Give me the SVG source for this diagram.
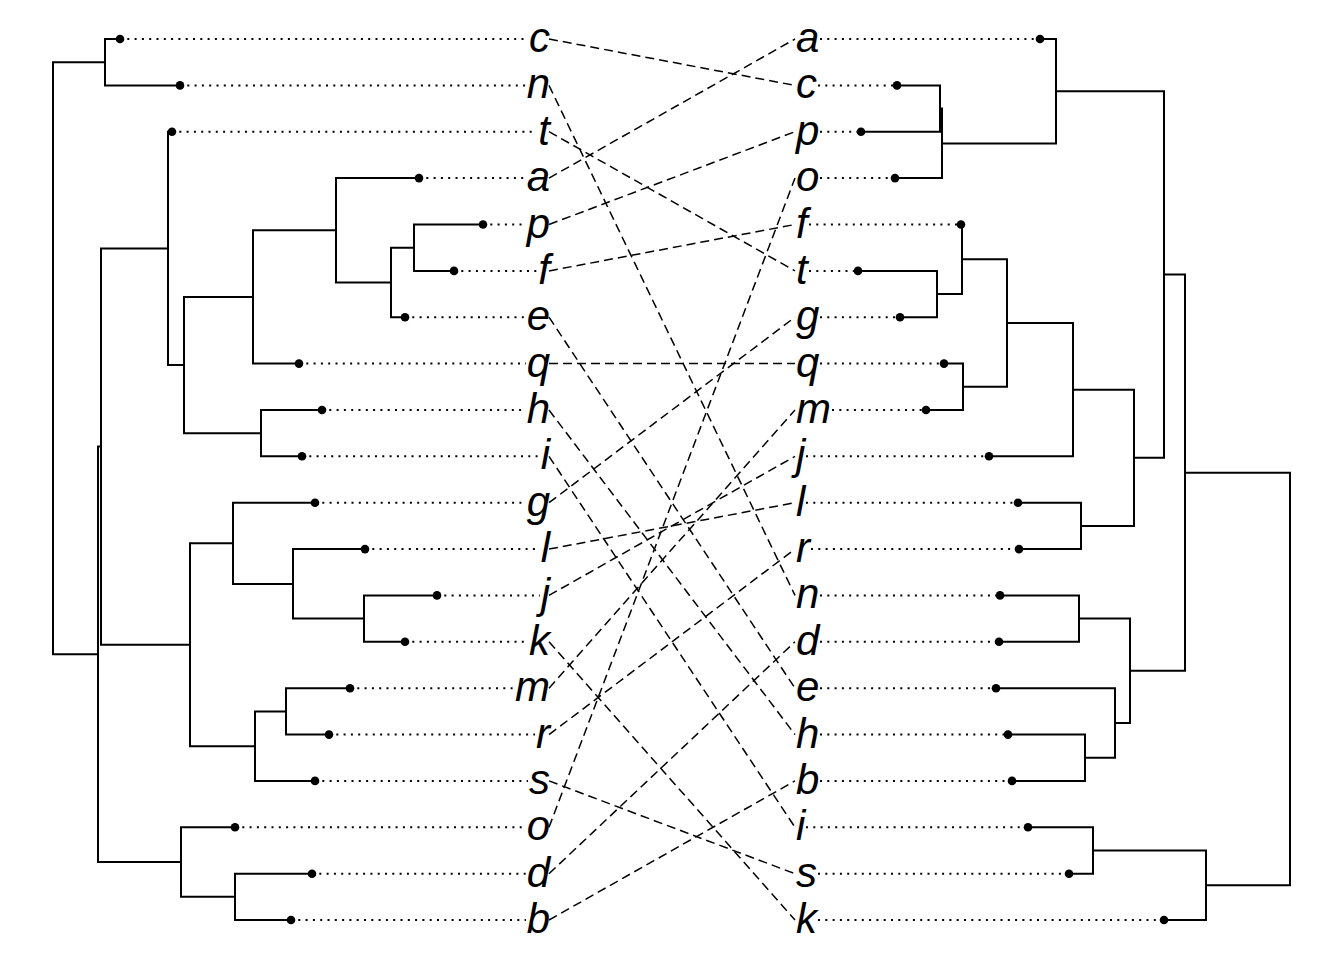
<svg xmlns="http://www.w3.org/2000/svg" width="1344" height="960" viewBox="0 0 1344 960">
  <style>
    .br { fill: none; stroke: #000; stroke-width: 2; stroke-linecap: square; }
    .dot { fill: #000; }
    .lead { stroke: #000; stroke-width: 2; stroke-dasharray: 2 5.3; fill: none; }
    .cx { stroke: #000; stroke-width: 1.5; stroke-dasharray: 9 5; fill: none; }
    .lab { font-family: "Liberation Sans", Arial, sans-serif; font-style: italic; font-size: 42px; fill: #000; }
    .l { text-anchor: end; }
    .r { text-anchor: start; }
  </style>
  <rect width="1344" height="960" fill="#fff"/>

  <!-- left dendrogram branches -->
  <g id="left-tree" class="br">
    <path d="M120 39 H105 V85.4 H180"/>
    <path d="M483 224.5 H414 V270.9 H454"/>
    <path d="M414 247.7 H391 V317.2 H405"/>
    <path d="M419 178.1 H336 V282.4 H391"/>
    <path d="M336 230.3 H253 V363.6 H299"/>
    <path d="M322 410 H261 V456.3 H302"/>
    <path d="M253 296.9 H184 V433.2 H261"/>
    <path d="M172 131.7 H168 V365 H184"/>
    <path d="M437 595.4 H364 V641.8 H405"/>
    <path d="M365 549.1 H293 V618.6 H364"/>
    <path d="M315 502.7 H233 V583.9 H293"/>
    <path d="M350 688.2 H286 V734.6 H329"/>
    <path d="M286 711.4 H255 V780.9 H315"/>
    <path d="M233 543.3 H190 V746.2 H255"/>
    <path d="M168 248.4 H101 V644.7 H190"/>
    <path d="M312 873.7 H235 V920 H291"/>
    <path d="M235 827.3 H181 V896.8 H235"/>
    <path d="M101 446.6 H98 V862.1 H181"/>
    <path d="M105 62.2 H53 V654.3 H98"/>
  </g>

  <!-- right dendrogram branches -->
  <g id="right-tree" class="br">
    <path d="M897 85.4 H940 V131.7 H861"/>
    <path d="M940 108.6 H942 V178.1 H895"/>
    <path d="M1040 39 H1056 V143.4 H942"/>
    <path d="M858 270.9 H937 V317.2 H900"/>
    <path d="M961 224.5 H962 V294.1 H937"/>
    <path d="M944 363.6 H963 V410 H926"/>
    <path d="M962 259.3 H1007 V386.8 H963"/>
    <path d="M1007 323.1 H1073 V456.3 H989"/>
    <path d="M1018 502.7 H1081 V549.1 H1019"/>
    <path d="M1073 389.7 H1134 V525.9 H1081"/>
    <path d="M1056 91.2 H1164 V457.8 H1134"/>
    <path d="M1000 595.4 H1079 V641.8 H999"/>
    <path d="M1008 734.6 H1085 V780.9 H1012"/>
    <path d="M996 688.2 H1115 V757.8 H1085"/>
    <path d="M1079 618.6 H1130 V723 H1115"/>
    <path d="M1164 274.5 H1185 V670.8 H1130"/>
    <path d="M1028 827.3 H1093 V873.7 H1069"/>
    <path d="M1093 850.5 H1206 V920 H1164"/>
    <path d="M1185 472.7 H1290 V885.3 H1206"/>
  </g>

  <!-- left leaves: dot, leader, label -->
  <g id="left-leaves">
    <g id="L-c"><path class="lead" d="M120 39 H528"/><circle class="dot" cx="120" cy="39" r="4.3"/><text class="lab l" x="550" y="52">c</text></g>
    <g id="L-n"><path class="lead" d="M180 85.4 H526"/><circle class="dot" cx="180" cy="85.4" r="4.3"/><text class="lab l" x="550" y="98.4">n</text></g>
    <g id="L-t"><path class="lead" d="M172 131.7 H537"/><circle class="dot" cx="172" cy="131.7" r="4.3"/><text class="lab l" x="550" y="144.7">t</text></g>
    <g id="L-a"><path class="lead" d="M419 178.1 H526"/><circle class="dot" cx="419" cy="178.1" r="4.3"/><text class="lab l" x="550" y="191.1">a</text></g>
    <g id="L-p"><path class="lead" d="M483 224.5 H526"/><circle class="dot" cx="483" cy="224.5" r="4.3"/><text class="lab l" x="550" y="237.5">p</text></g>
    <g id="L-f"><path class="lead" d="M454 270.9 H537"/><circle class="dot" cx="454" cy="270.9" r="4.3"/><text class="lab l" x="550" y="283.9">f</text></g>
    <g id="L-e"><path class="lead" d="M405 317.2 H526"/><circle class="dot" cx="405" cy="317.2" r="4.3"/><text class="lab l" x="550" y="330.2">e</text></g>
    <g id="L-q"><path class="lead" d="M299 363.6 H526"/><circle class="dot" cx="299" cy="363.6" r="4.3"/><text class="lab l" x="550" y="376.6">q</text></g>
    <g id="L-h"><path class="lead" d="M322 410 H526"/><circle class="dot" cx="322" cy="410" r="4.3"/><text class="lab l" x="550" y="423">h</text></g>
    <g id="L-i"><path class="lead" d="M302 456.3 H540"/><circle class="dot" cx="302" cy="456.3" r="4.3"/><text class="lab l" x="550" y="469.3">i</text></g>
    <g id="L-g"><path class="lead" d="M315 502.7 H526"/><circle class="dot" cx="315" cy="502.7" r="4.3"/><text class="lab l" x="550" y="515.7">g</text></g>
    <g id="L-l"><path class="lead" d="M365 549.1 H540"/><circle class="dot" cx="365" cy="549.1" r="4.3"/><text class="lab l" x="550" y="562.1">l</text></g>
    <g id="L-j"><path class="lead" d="M437 595.4 H540"/><circle class="dot" cx="437" cy="595.4" r="4.3"/><text class="lab l" x="550" y="608.4">j</text></g>
    <g id="L-k"><path class="lead" d="M405 641.8 H528"/><circle class="dot" cx="405" cy="641.8" r="4.3"/><text class="lab l" x="550" y="654.8">k</text></g>
    <g id="L-m"><path class="lead" d="M350 688.2 H514"/><circle class="dot" cx="350" cy="688.2" r="4.3"/><text class="lab l" x="550" y="701.2">m</text></g>
    <g id="L-r"><path class="lead" d="M329 734.6 H535"/><circle class="dot" cx="329" cy="734.6" r="4.3"/><text class="lab l" x="550" y="747.6">r</text></g>
    <g id="L-s"><path class="lead" d="M315 780.9 H528"/><circle class="dot" cx="315" cy="780.9" r="4.3"/><text class="lab l" x="550" y="793.9">s</text></g>
    <g id="L-o"><path class="lead" d="M235 827.3 H526"/><circle class="dot" cx="235" cy="827.3" r="4.3"/><text class="lab l" x="550" y="840.3">o</text></g>
    <g id="L-d"><path class="lead" d="M312 873.7 H526"/><circle class="dot" cx="312" cy="873.7" r="4.3"/><text class="lab l" x="550" y="886.7">d</text></g>
    <g id="L-b"><path class="lead" d="M291 920 H526"/><circle class="dot" cx="291" cy="920" r="4.3"/><text class="lab l" x="550" y="933">b</text></g>
  </g>

  <!-- right leaves: label, leader, dot -->
  <g id="right-leaves">
    <g id="R-a"><path class="lead" d="M820 39 H1040"/><circle class="dot" cx="1040" cy="39" r="4.3"/><text class="lab r" x="796" y="52">a</text></g>
    <g id="R-c"><path class="lead" d="M818 85.4 H897"/><circle class="dot" cx="897" cy="85.4" r="4.3"/><text class="lab r" x="796" y="98.4">c</text></g>
    <g id="R-p"><path class="lead" d="M820 131.7 H861"/><circle class="dot" cx="861" cy="131.7" r="4.3"/><text class="lab r" x="796" y="144.7">p</text></g>
    <g id="R-o"><path class="lead" d="M820 178.1 H895"/><circle class="dot" cx="895" cy="178.1" r="4.3"/><text class="lab r" x="796" y="191.1">o</text></g>
    <g id="R-f"><path class="lead" d="M809 224.5 H961"/><circle class="dot" cx="961" cy="224.5" r="4.3"/><text class="lab r" x="796" y="237.5">f</text></g>
    <g id="R-t"><path class="lead" d="M809 270.9 H858"/><circle class="dot" cx="858" cy="270.9" r="4.3"/><text class="lab r" x="796" y="283.9">t</text></g>
    <g id="R-g"><path class="lead" d="M820 317.2 H900"/><circle class="dot" cx="900" cy="317.2" r="4.3"/><text class="lab r" x="796" y="330.2">g</text></g>
    <g id="R-q"><path class="lead" d="M820 363.6 H944"/><circle class="dot" cx="944" cy="363.6" r="4.3"/><text class="lab r" x="796" y="376.6">q</text></g>
    <g id="R-m"><path class="lead" d="M832 410 H926"/><circle class="dot" cx="926" cy="410" r="4.3"/><text class="lab r" x="796" y="423">m</text></g>
    <g id="R-j"><path class="lead" d="M806 456.3 H989"/><circle class="dot" cx="989" cy="456.3" r="4.3"/><text class="lab r" x="796" y="469.3">j</text></g>
    <g id="R-l"><path class="lead" d="M806 502.7 H1018"/><circle class="dot" cx="1018" cy="502.7" r="4.3"/><text class="lab r" x="796" y="515.7">l</text></g>
    <g id="R-r"><path class="lead" d="M811 549.1 H1019"/><circle class="dot" cx="1019" cy="549.1" r="4.3"/><text class="lab r" x="796" y="562.1">r</text></g>
    <g id="R-n"><path class="lead" d="M820 595.4 H1000"/><circle class="dot" cx="1000" cy="595.4" r="4.3"/><text class="lab r" x="796" y="608.4">n</text></g>
    <g id="R-d"><path class="lead" d="M820 641.8 H999"/><circle class="dot" cx="999" cy="641.8" r="4.3"/><text class="lab r" x="796" y="654.8">d</text></g>
    <g id="R-e"><path class="lead" d="M820 688.2 H996"/><circle class="dot" cx="996" cy="688.2" r="4.3"/><text class="lab r" x="796" y="701.2">e</text></g>
    <g id="R-h"><path class="lead" d="M820 734.6 H1008"/><circle class="dot" cx="1008" cy="734.6" r="4.3"/><text class="lab r" x="796" y="747.6">h</text></g>
    <g id="R-b"><path class="lead" d="M820 780.9 H1012"/><circle class="dot" cx="1012" cy="780.9" r="4.3"/><text class="lab r" x="796" y="793.9">b</text></g>
    <g id="R-i"><path class="lead" d="M806 827.3 H1028"/><circle class="dot" cx="1028" cy="827.3" r="4.3"/><text class="lab r" x="796" y="840.3">i</text></g>
    <g id="R-s"><path class="lead" d="M818 873.7 H1069"/><circle class="dot" cx="1069" cy="873.7" r="4.3"/><text class="lab r" x="796" y="886.7">s</text></g>
    <g id="R-k"><path class="lead" d="M818 920 H1164"/><circle class="dot" cx="1164" cy="920" r="4.3"/><text class="lab r" x="796" y="933">k</text></g>
  </g>

  <!-- dashed links between matching leaves -->
  <g id="connectors" class="cx">
    <path d="M549 39 L795 85.4"/>
    <path d="M549 85.4 L795 595.4"/>
    <path d="M549 131.7 L795 270.9"/>
    <path d="M549 178.1 L795 39"/>
    <path d="M549 224.5 L795 131.7"/>
    <path d="M549 270.9 L795 224.5"/>
    <path d="M549 317.2 L795 688.2"/>
    <path d="M549 363.6 L795 363.6"/>
    <path d="M549 410 L795 734.6"/>
    <path d="M549 456.3 L795 827.3"/>
    <path d="M549 502.7 L795 317.2"/>
    <path d="M549 549.1 L795 502.7"/>
    <path d="M549 595.4 L795 456.3"/>
    <path d="M549 641.8 L795 920"/>
    <path d="M549 688.2 L795 410"/>
    <path d="M549 734.6 L795 549.1"/>
    <path d="M549 780.9 L795 873.7"/>
    <path d="M549 827.3 L795 178.1"/>
    <path d="M549 873.7 L795 641.8"/>
    <path d="M549 920 L795 780.9"/>
  </g>
</svg>
